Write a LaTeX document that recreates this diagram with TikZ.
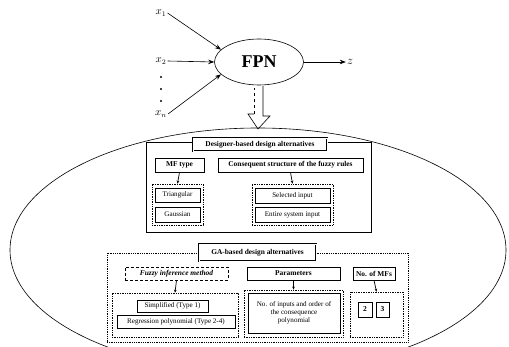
\documentclass[tikz,border=0pt]{standalone}
\usepackage{fontspec}
\setmainfont{Liberation Serif}
\usetikzlibrary{shapes.geometric,arrows.meta}
\tikzset{
  txt/.style={font=\fontsize{7.1}{8.2}\selectfont},
  box/.style={draw, fill=white, inner sep=0pt, line width=0.7pt, txt, align=center},
  hbox/.style={box, font=\bfseries\fontsize{7.4}{8.4}\selectfont},
  grp/.style={draw, densely dotted, line width=0.7pt, inner sep=0pt},
  tbox/.style={draw, double, double distance=0.9pt, line width=0.5pt, fill=white, inner sep=0pt, font=\bfseries\fontsize{7.4}{8.4}\selectfont},
  arr/.style={-{Stealth[length=3pt,width=2.6pt]}, line width=0.7pt},
  inarr/.style={-{Stealth[length=6pt,width=4.5pt]}, line width=0.6pt},
  lbl/.style={font=\fontsize{10.5}{12}\selectfont, inner sep=1pt},
  dotn/.style={circle, fill, inner sep=0pt, minimum size=2.2pt},
}
\begin{document}
\begin{tikzpicture}[x=1pt,y=-1pt]
\useasboundingbox (0,0) rectangle (509,347);
\clip (0,0) rectangle (509,347);
% big ellipse
\draw[line width=0.6pt] (258,250) ellipse [x radius=248, y radius=122];

% top network
\node[ellipse, draw, line width=0.6pt, minimum width=89pt, minimum height=46pt, inner sep=0pt,
      font=\bfseries\fontsize{18}{20}\selectfont] (fpn) at (259,62) {FPN};
\node[lbl] (x1) at (161,13) {$x_1$};
\node[lbl] (x2) at (161,61) {$x_2$};
\node[lbl] (xn) at (161,114) {$x_n$};
\node[dotn] (d1) at (161,77) {};
\node[dotn] (d2) at (161,89) {};
\node[dotn] (d3) at (161,101) {};
\node[font=\fontsize{12}{14}\selectfont, inner sep=1pt] (z) at (350,62) {$z$};
\draw[inarr] (x1.east) -- (fpn.162);
\draw[inarr] (x2.east) -- (fpn.west);
\draw[inarr] (xn.east) -- (fpn.198);
\draw[inarr] (fpn.east) -- (z.west);

% hollow arrow
\coordinate (hatip) at (258,129);
\draw[line width=0.6pt] (263,86) -- (263,116) -- (270,116) -- (hatip) -- (248,114) -- (254,114);
\draw[line width=0.6pt, dashed] (254,114) -- (254,88);

% designer section
\node[draw, line width=0.7pt, fill=white, minimum width=225pt, minimum height=90pt, inner sep=0pt] (dframe) at (258.5,187) {};
\node[tbox, minimum width=134pt, minimum height=13pt] (dtitle) at (260,144.5) {Designer-based design alternatives};
\node[hbox, minimum width=49pt, minimum height=14pt] (mf) at (179.5,165) {MF type};
\node[hbox, minimum width=145pt, minimum height=14pt] (cons) at (290.5,165) {Consequent structure of the fuzzy rules};
\node[grp, minimum width=51pt, minimum height=41pt] (gl) at (177.5,204.5) {};
\node[box, minimum width=45pt, minimum height=14pt] (tri) at (177.5,195) {Triangular};
\node[box, minimum width=45pt, minimum height=15pt] (gau) at (177.5,214.5) {Gaussian};
\node[grp, minimum width=81pt, minimum height=41pt] (gr) at (292.5,204.5) {};
\node[box, minimum width=75pt, minimum height=15pt] (sel) at (292.5,195.5) {Selected input};
\node[box, minimum width=75pt, minimum height=15pt] (ent) at (292.5,214.5) {Entire system input};
\draw[arr] (mf.south) -- (gl.north);
\draw[arr] (cons.south) -- (gr.north);

% GA section
\node[draw, densely dotted, line width=0.8pt, fill=white, minimum width=301pt, minimum height=89pt, inner sep=0pt] (gframe) at (257.5,297.5) {};
\node[tbox, minimum width=117pt, minimum height=17pt] (gtitle) at (257.5,252.5) {GA-based design alternatives};
\node[hbox, densely dashed, minimum width=103pt, minimum height=13pt, font=\bfseries\itshape\fontsize{7.4}{8.4}\selectfont] (fim) at (176.5,273.5) {Fuzzy inference method};
\node[hbox, minimum width=93pt, minimum height=13pt] (par) at (293.5,273.5) {Parameters};
\node[hbox, minimum width=42pt, minimum height=13pt] (nmf) at (374,273.5) {No. of MFs};
\node[grp, minimum width=126pt, minimum height=44pt] (g1) at (175,315) {};
\node[box, minimum width=71pt, minimum height=12pt] (simp) at (172.5,306) {Simplified (Type 1)};
\node[box, minimum width=118pt, minimum height=13pt] (reg) at (176,321.5) {Regression polynomial (Type 2-4)};
\node[grp, minimum width=99pt, minimum height=47pt] (g2) at (293.5,313.5) {};
\node[box, minimum width=92pt, minimum height=40pt] (noin) at (294,313) {No. of inputs and order of\\the consequence\\polynomial};
\node[grp, minimum width=53pt, minimum height=45pt] (g3) at (376.5,314.5) {};
\node[box, font=\bfseries\fontsize{7.5}{8.5}\selectfont, minimum width=14pt, minimum height=15pt] (b2) at (365,309.5) {2};
\node[box, font=\bfseries\fontsize{7.5}{8.5}\selectfont, minimum width=13pt, minimum height=15pt] (b3) at (382.5,309.5) {3};
\draw[arr] (fim.south) -- (g1.north);
\draw[arr] (par.south) -- (g2.north);
\draw[arr] (nmf.south) -- (g3.north);
\end{tikzpicture}
\end{document}
